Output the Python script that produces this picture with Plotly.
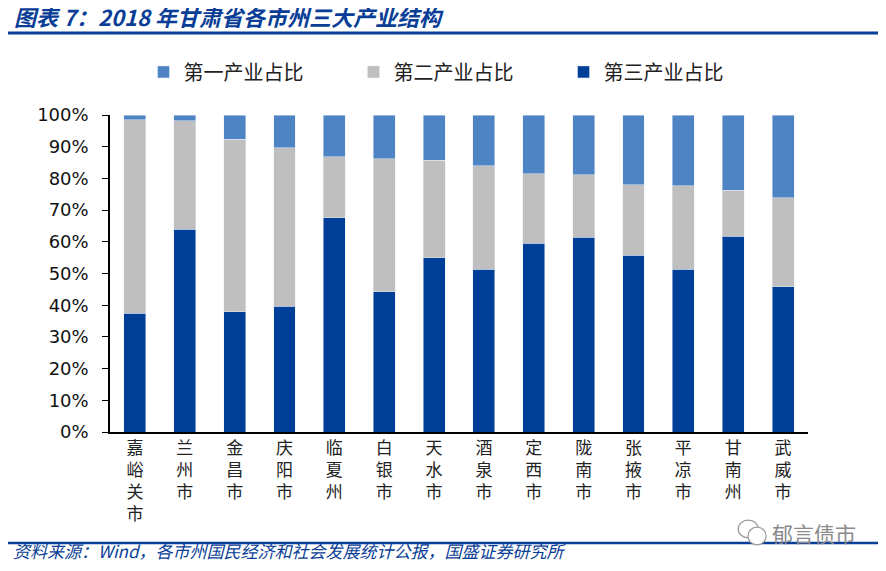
import plotly.graph_objects as go

# 2018年甘肃省各市州三大产业结构（%）
cities = ["嘉峪关市", "兰州市", "金昌市", "庆阳市", "临夏州", "白银市", "天水市",
          "酒泉市", "定西市", "陇南市", "张掖市", "平凉市", "甘南州", "武威市"]
tertiary = [37.4, 63.9, 38.0, 39.6, 67.6, 44.3, 55.0, 51.3, 59.5, 61.4, 55.7, 51.3, 61.7, 45.9]
secondary = [61.1, 34.3, 54.4, 50.1, 19.3, 41.9, 30.8, 32.7, 22.0, 19.8, 22.3, 26.4, 14.5, 28.0]
primary = [1.5, 1.8, 7.6, 10.3, 13.1, 13.8, 14.2, 16.0, 18.5, 18.8, 22.0, 22.3, 23.8, 26.1]
y_ticks = [0, 10, 20, 30, 40, 50, 60, 70, 80, 90, 100]

# 竖排标签
tick_text = ["<br>".join(list(c)) for c in cities]

CJK = "Noto Sans CJK SC"
BLUE = "#0a3e96"

fig = go.Figure()
fig.add_trace(go.Bar(x=cities, y=tertiary, name="第三产业占比", marker_color="#003f98"))
fig.add_trace(go.Bar(x=cities, y=secondary, name="第二产业占比", marker_color="#bfbfbf"))
fig.add_trace(go.Bar(x=cities, y=primary, name="第一产业占比", marker_color="#4f84c4"))

# 页面有 8px 的边距，所以图整体缩小 8px
fig.update_layout(
    width=878, height=563,
    margin=dict(l=102, r=78, t=107, b=139),
    barmode="stack", bargap=0.56,
    plot_bgcolor="white", paper_bgcolor="white",
    showlegend=True,
    legend=dict(orientation="h", traceorder="reversed",
                x=0.048, y=1.136, xanchor="left", yanchor="middle",
                entrywidth=165, entrywidthmode="pixels",
                font=dict(family=CJK, size=20, color="#222")),
    xaxis=dict(tickmode="array", tickvals=cities, ticktext=tick_text,
               showline=True, linecolor="black", linewidth=1.5,
               ticks="", tickfont=dict(family=CJK, size=17, color="#222")),
    yaxis=dict(range=[0, 100], tickmode="array", tickvals=y_ticks,
               ticktext=[f"{v}%" for v in y_ticks],
               showline=True, linecolor="black", linewidth=1.5,
               ticks="outside", ticklen=6, tickcolor="black", showgrid=False,
               ticklabelstandoff=10,
               tickfont=dict(family="DejaVu Sans", size=18, color="#111")),
)

# 标题
fig.add_annotation(text="<b>图表 7：2018 年甘肃省各市州三大产业结构</b>",
                   xref="paper", yref="paper", x=-0.140, y=1.312,
                   xanchor="left", yanchor="middle", showarrow=False,
                   font=dict(family=CJK, size=22, color=BLUE, style="italic"))
fig.add_shape(type="line", xref="paper", yref="paper",
              x0=-0.153, x1=1.112, y0=1.259, y1=1.259,
              line=dict(color=BLUE, width=3))

# 资料来源
fig.add_shape(type="line", xref="paper", yref="paper",
              x0=-0.153, x1=1.112, y0=-0.350, y1=-0.350,
              line=dict(color=BLUE, width=2.5))
fig.add_annotation(text="资料来源：Wind，各市州国民经济和社会发展统计公报，国盛证券研究所",
                   xref="paper", yref="paper", x=-0.142, y=-0.374,
                   xanchor="left", yanchor="middle", showarrow=False,
                   font=dict(family=CJK, size=17, color=BLUE, style="italic"))

# 水印
fig.add_shape(type="circle", xref="paper", yref="paper",
              x0=0.900, x1=0.929, y0=-0.278, y1=-0.334,
              line=dict(color="#9a9a9a", width=1.2), fillcolor="white")
fig.add_shape(type="circle", xref="paper", yref="paper",
              x0=0.914, x1=0.940, y0=-0.300, y1=-0.356,
              line=dict(color="#9a9a9a", width=1.2), fillcolor="white")
fig.add_annotation(text="郁言债市", xref="paper", yref="paper", x=0.945, y=-0.318,
                   xanchor="left", yanchor="middle", showarrow=False,
                   font=dict(family=CJK, size=21, color="#8a8a8a"))

fig.write_html("out.html")
